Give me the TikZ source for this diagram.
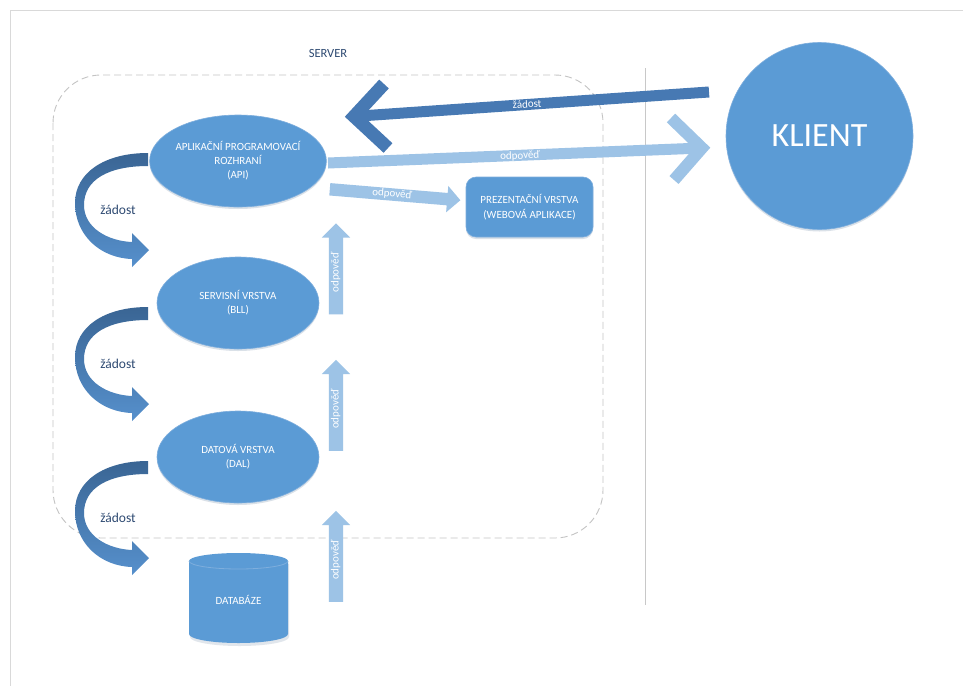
\documentclass[tikz,border=0pt]{standalone}
\usepackage{fontspec}
\setmainfont{Carlito}
\usetikzlibrary{shapes.geometric,shapes.arrows,shadows}

\definecolor{nodeblue}{HTML}{5B9BD5}
\definecolor{nodeedge}{HTML}{7EAEDD}
\definecolor{darkarrow}{HTML}{4779B3}
\definecolor{lightarrow}{HTML}{9DC3E6}
\definecolor{curvetop}{HTML}{3A6594}
\definecolor{curvebot}{HTML}{5690CC}
\definecolor{labeltext}{HTML}{2E4A72}
\definecolor{framegray}{HTML}{D9D9D9}
\definecolor{dividergray}{HTML}{C8C8C8}
\definecolor{dashgray}{HTML}{C4C4C4}

\begin{document}
\begin{tikzpicture}[x=1pt,y=-1pt,
  softshadow/.style={drop shadow={opacity=0.18,shadow xshift=0pt,shadow yshift=-2pt,fill=nodeblue!60!black}},
  layer/.style={ellipse,fill=nodeblue,draw=nodeedge,line width=0.6pt,
    minimum width=162pt,minimum height=92pt,inner sep=0pt,
    text=white,align=center,font=\fontsize{11}{14}\selectfont,softshadow},
  webbox/.style={rectangle,rounded corners=10pt,fill=nodeblue,draw=nodeedge,line width=0.6pt,
    minimum width=127pt,minimum height=60pt,inner sep=0pt,
    text=white,align=center,font=\fontsize{11}{15}\selectfont,softshadow},
  clientnode/.style={circle,fill=nodeblue,draw=nodeedge,line width=0.6pt,
    minimum size=187pt,inner sep=0pt,text=white,font=\fontsize{34}{34}\selectfont,softshadow},
  uparrow/.style={single arrow,fill=lightarrow,text=white,
    font=\fontsize{11}{11}\selectfont,rotate=90,
    single arrow head extend=7pt,single arrow tip angle=90,single arrow head indent=0pt,
    text height=7pt,text depth=2pt,inner ysep=2.5pt,inner xsep=2pt,minimum height=91pt},
  fwdarrow/.style={single arrow,fill=lightarrow,text=white,
    font=\fontsize{11}{11}\selectfont,
    single arrow head extend=7pt,single arrow tip angle=90,single arrow head indent=0pt,
    text height=7pt,text depth=2pt,inner ysep=1.5pt,inner xsep=2pt,minimum height=131pt},
  reqshade/.style={top color=curvetop,bottom color=curvebot},
  reqlabel/.style={text=labeltext,font=\fontsize{13.5}{13.5}\selectfont},
  arrlabel/.style={text=white,font=\fontsize{11}{11}\selectfont,inner sep=0pt},
  shaftdark/.style={draw=darkarrow,line width=11pt},
  barbdark/.style={draw=darkarrow,line width=13pt,miter limit=10},
  shaftlight/.style={draw=lightarrow,line width=11pt},
  barblight/.style={draw=lightarrow,line width=12pt,miter limit=10},
]
\useasboundingbox (0,0) rectangle (963,686);
\fill[white] (0,0) rectangle (963,686);

% page edge
\draw[framegray,line width=1.3pt] (963,10.5) -- (10.5,10.5) -- (10.5,686);

% server boundary and divider
\draw[dashgray,line width=0.9pt,dash pattern=on 7pt off 4pt,rounded corners=48pt]
  (53,75) rectangle (603,538);
\node[text=labeltext,font=\fontsize{12.5}{12.5}\selectfont] (server) at (328,53) {SERVER};
\draw[dividergray,line width=0.8pt] (645,68) -- (645,605);

% layers
\node[layer] (api) at (238,161) {APLIKAČNÍ PROGRAMOVACÍ\\ROZHRANÍ\\(API)};
\node[layer] (bll) at (238,303) {SERVISNÍ VRSTVA\\(BLL)};
\node[layer] (dal) at (238,457) {DATOVÁ VRSTVA\\(DAL)};
\node[webbox] (web) at (529.5,207) {PREZENTAČNÍ VRSTVA\\(WEBOVÁ APLIKACE)};
\node[clientnode] (klient) at (819.5,136) {KLIENT};

% database cylinder
\fill[nodeblue!60!black,opacity=0.15] (190,564) -- (190,637)
  arc[start angle=180,end angle=0,x radius=49.5,y radius=9] -- (289,564) -- cycle;
\fill[nodeblue] (189,561) -- (189,634)
  arc[start angle=180,end angle=0,x radius=49.5,y radius=9] -- (288,561)
  arc[start angle=0,end angle=-180,x radius=49.5,y radius=8] -- cycle;
\draw[nodeedge,line width=0.8pt] (189,561)
  arc[start angle=180,end angle=0,x radius=49.5,y radius=8];
\node[text=white,font=\fontsize{11}{11}\selectfont] (db) at (238.5,600) {DATABÁZE};

% requests passed down the layers
\foreach \o/\n in {0/a,154/b,308/c}{
  \begin{scope}[shift={(0,\o)}]
    \path[reqshade] (148,153) .. controls (104,153) and (75,173) .. (75,203)
      .. controls (75,235) and (100,258) .. (132,259)
      -- (132,267) -- (149,250) -- (132,233) -- (132,242)
      .. controls (108,241) and (84,228) .. (84,205)
      .. controls (84,180) and (108,166) .. (148,166) -- cycle;
    \node[reqlabel] (req\n) at (118,210) {žádost};
  \end{scope}
}

% responses passed up the layers
\node[uparrow] (resp1) at (336,272.5) {odpověď};
\node[uparrow] (resp2) at (336,409) {odpověď};
\node[uparrow] (resp3) at (336,560) {odpověď};

% response to the web application
\node[fwdarrow,rotate=-4.8] (respweb) at (392,194.5) {odpověď};

% client request
\coordinate (reqstart) at (709,92);
\coordinate (reqtip) at (354,116.4);
\coordinate (reqbarb1) at (384,84);
\coordinate (reqbarb2) at (388,148);
\draw[shaftdark] (reqstart) -- (reqtip);
\draw[barbdark] (reqbarb1) -- (reqtip) -- (reqbarb2);
\node[arrlabel,rotate=3.9] (reqtext) at (527,104) {žádost};

% response to the client
\coordinate (respstart) at (328,163);
\coordinate (resptip) at (702,148);
\coordinate (respbarb1) at (671,118);
\coordinate (respbarb2) at (674,180);
\draw[shaftlight] (respstart) -- (resptip);
\draw[barblight] (respbarb1) -- (resptip) -- (respbarb2);
\node[arrlabel,rotate=2.3] (resptext) at (520,156) {odpověď};
\end{tikzpicture}
\end{document}
